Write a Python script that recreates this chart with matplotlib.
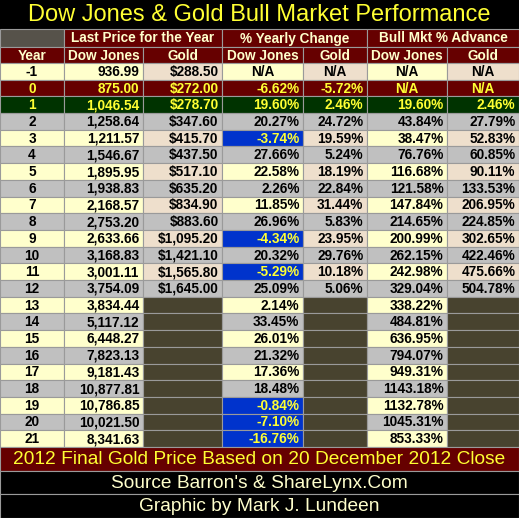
import matplotlib
matplotlib.use("Agg")
import matplotlib.pyplot as plt
from matplotlib.patches import Rectangle

plt.rcParams['font.family'] = ['Liberation Sans', 'DejaVu Sans']

# данные таблицы
years = list(range(-1, 22))
dow = [936.99, 875.00, 1046.54, 1258.64, 1211.57, 1546.67, 1895.95, 1938.83,
       2168.57, 2753.20, 2633.66, 3168.83, 3001.11, 3754.09, 3834.44, 5117.12,
       6448.27, 7823.13, 9181.43, 10877.81, 10786.85, 10021.50, 8341.63]
gold = [288.50, 272.00, 278.70, 347.60, 415.70, 437.50, 517.10, 635.20,
        834.90, 883.60, 1095.20, 1421.10, 1565.80, 1645.00]
dow_chg = [None, -6.62, 19.60, 20.27, -3.74, 27.66, 22.58, 2.26, 11.85, 26.96,
           -4.34, 20.32, -5.29, 25.09, 2.14, 33.45, 26.01, 21.32, 17.36, 18.48,
           -0.84, -7.10, -16.76]
gold_chg = [None, -5.72, 2.46, 24.72, 19.59, 5.24, 18.19, 22.84, 31.44, 5.83,
            23.95, 29.76, 10.18, 5.06]
bull_dow = [None, None, 19.60, 43.84, 38.47, 76.76, 116.68, 121.58, 147.84,
            214.65, 200.99, 262.15, 242.98, 329.04, 338.22, 484.81, 636.95,
            794.07, 949.31, 1143.18, 1132.78, 1045.31, 853.33]
bull_gold = [None, None, 2.46, 27.79, 52.83, 60.85, 90.11, 133.53, 206.95,
             224.85, 302.65, 422.46, 475.66, 504.78]

title = "Dow Jones & Gold Bull Market Performance"
groups = ["Last Price for the Year", "% Yearly Change", "Bull Mkt % Advance"]
col_names = ["Year", "Dow Jones", "Gold", "Dow Jones", "Gold", "Dow Jones", "Gold"]
footers = ["2012 Final Gold Price Based on 20 December 2012 Close",
           "Source Barron's & ShareLynx.Com",
           "Graphic by Mark J. Lundeen"]

# цвета
LIGHT = '#FFFFCC'
TAN = '#EEDFCC'
GRAY = '#C0C0C0'
DRED = '#660000'
DGREEN = '#003300'
BLUE = '#0033CC'
EMPTY = '#48432F'
CORNER = '#56524A'
YEL = '#FFFF33'
PALE = '#FFFFCC'
GRID = '#9A9A9A'

W, H = 519, 518
fig = plt.figure(figsize=(W / 100, H / 100), dpi=100)
fig.patch.set_facecolor('black')
ax = fig.add_axes([0, 0, 1, 1])
ax.set_xlim(0, W)
ax.set_ylim(H, 0)
ax.axis('off')

xs = [0, 64, 143, 222, 303, 367, 447, 519]
top = 63
rh = (447 - 63) / len(years)


def cell(x0, x1, y0, y1, fc):
    ax.add_patch(Rectangle((x0, y0), x1 - x0, y1 - y0, facecolor=fc,
                           edgecolor=GRID, linewidth=0.8))


def txt(s, x0, x1, y0, y1, color='black', align='right', size=9.8, weight='bold'):
    if align == 'center':
        x = (x0 + x1) / 2
    else:
        x = x1 - 3.5
    ax.text(x, (y0 + y1) / 2 + 0.5, s, ha=align, va='center', color=color,
            fontsize=size, fontweight=weight)


# заголовок
ax.text(W / 2, 15, title, ha='center', va='center', color=YEL, fontsize=17)

# шапка
cell(xs[0], xs[1], 29, 47, CORNER)
for g in range(3):
    cell(xs[1 + 2 * g], xs[3 + 2 * g], 29, 47, DRED)
    txt(groups[g], xs[1 + 2 * g], xs[3 + 2 * g], 29, 47, PALE, 'center', 9.8)
for c in range(7):
    cell(xs[c], xs[c + 1], 47, 63, DRED)
    txt(col_names[c], xs[c], xs[c + 1], 47, 63, PALE, 'center', 9.8)


def pct(v):
    return f"{v:.2f}%"


for i, yr in enumerate(years):
    y0 = top + i * rh
    y1 = y0 + rh
    vals = [str(yr), f"{dow[i]:,.2f}",
            f"${gold[i]:,.2f}" if i < len(gold) else None,
            pct(dow_chg[i]) if dow_chg[i] is not None else "N/A",
            (pct(gold_chg[i]) if gold_chg[i] is not None else "N/A") if i < len(gold_chg) else None,
            pct(bull_dow[i]) if bull_dow[i] is not None else "N/A",
            (pct(bull_gold[i]) if bull_gold[i] is not None else "N/A") if i < len(bull_gold) else None]
    for c in range(7):
        if yr == 0:
            fc, tc = DRED, YEL
        elif yr == 1:
            fc, tc = DGREEN, YEL
        elif yr % 2 == 0:
            fc, tc = GRAY, 'black'
        else:
            fc, tc = (LIGHT if c in (0, 1, 3, 5) else TAN), 'black'
        s = vals[c]
        if s is None:
            fc = EMPTY
        if c == 3 and dow_chg[i] is not None and dow_chg[i] < 0 and yr != 0:
            fc, tc = BLUE, YEL
        cell(xs[c], xs[c + 1], y0, y1, fc)
        if s is not None:
            al = 'center' if (c == 0 or s == "N/A") else 'right'
            txt(s, xs[c], xs[c + 1], y0, y1, tc, al)

# подвал
fy = [447, 471, 494, 518]
fcols = [(DRED, YEL, 13.8), ('black', PALE, 13.8), ('black', PALE, 13.8)]
for k in range(3):
    cell(0, W, fy[k], fy[k + 1], fcols[k][0])
    ax.text(W / 2, (fy[k] + fy[k + 1]) / 2 + 0.5, footers[k], ha='center',
            va='center', color=fcols[k][1], fontsize=fcols[k][2])

fig.savefig('out.png', dpi=100, facecolor='black')
